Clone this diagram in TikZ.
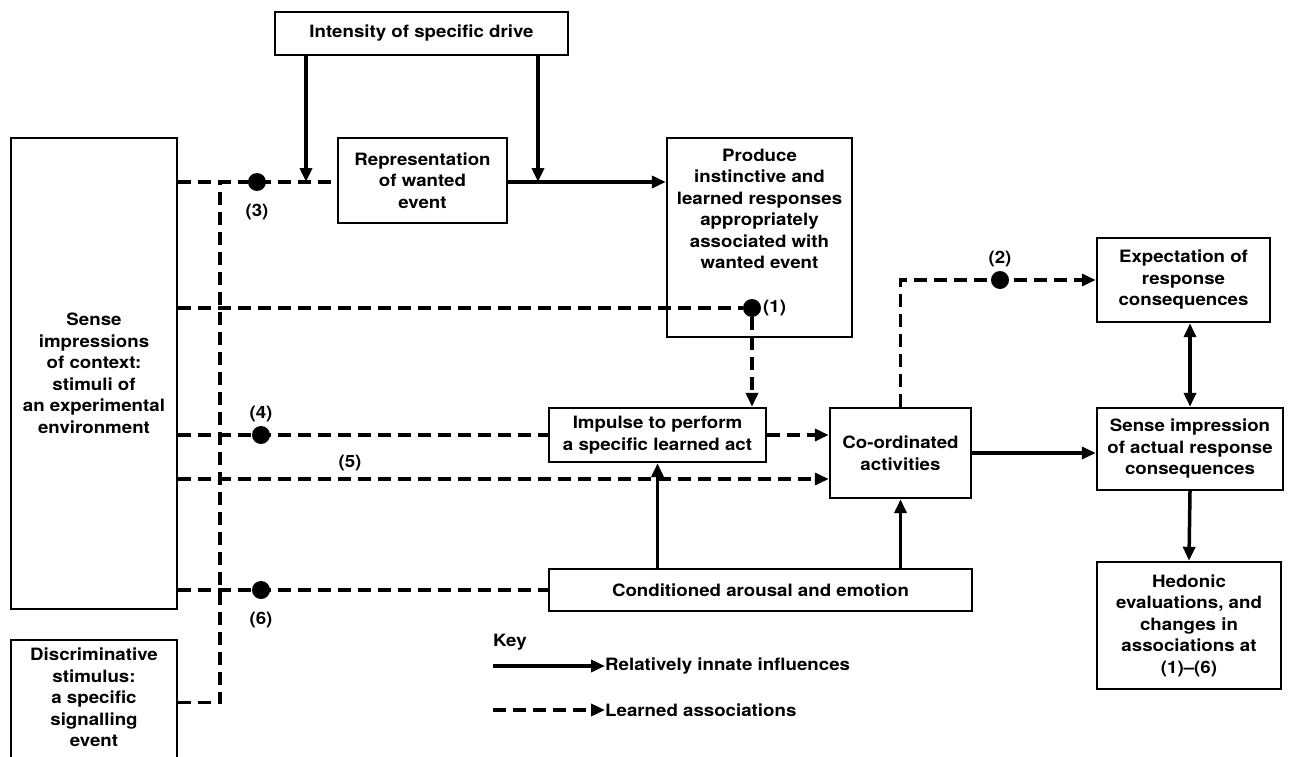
\documentclass[tikz,border=0pt]{standalone}
\usepackage{fontspec}
\newfontfamily\diagfont[FakeStretch=1.1,Ligatures=TeX]{TeX Gyre Heros}
\usetikzlibrary{arrows.meta}
\begin{document}
\begin{tikzpicture}[x=1pt,y=-1pt,
  every node/.style={font=\diagfont\bfseries\fontsize{17}{21.5}\selectfont},
  box/.style={draw, line width=2.4pt, inner sep=0pt, align=center},
  tip/.style={-{Triangle[length=14pt,width=12pt]}},
  solidline/.style={line width=3.5pt},
  learned/.style={line width=3.5pt, dash pattern=on 13pt off 7pt},
  junction/.style={circle, fill, inner sep=0pt, minimum size=18pt},
  tag/.style={inner sep=1pt}
]
\useasboundingbox (0,0) rectangle (1290,757);
\clip (0,0) rectangle (1290,757);
\fill[white] (0,0) rectangle (1290,757);

% ---- boxes ----
\node[box, minimum width=293pt, minimum height=43pt] (drive) at (421.5,33.5) {Intensity of specific drive};
\node[box, minimum width=166pt, minimum height=471pt] (sense) at (94,373.5)
  {Sense\\impressions\\of context:\\stimuli of\\an experimental\\environment};
\node[box, minimum width=166pt, minimum height=125pt, anchor=north] (disc) at (94,639)
  {\parbox[c][125pt][t]{160pt}{\centering\vspace*{8pt}Discriminative\\stimulus:\\a specific\\signalling\\event}};
\node[box, minimum width=169pt, minimum height=85pt] (rep) at (422.5,180.5) {Representation\\of wanted\\event};
\node[box, minimum width=185pt, minimum height=199pt] (produce) at (759.5,237.5)
  {\parbox[c][199pt][t]{180pt}{\centering\vspace*{11pt}Produce\\instinctive and\\learned responses\\appropriately\\associated with\\wanted event}};
\node[box, minimum width=173pt, minimum height=84pt] (expect) at (1183.5,280) {Expectation of\\response\\consequences};
\node[box, minimum width=186pt, minimum height=82pt] (actual) at (1190,449) {Sense impression\\of actual response\\consequences};
\node[box, minimum width=141pt, minimum height=90pt] (coord) at (900.5,453) {Co-ordinated\\activities};
\node[box, minimum width=217pt, minimum height=54pt] (impulse) at (657.5,435) {Impulse to perform\\a specific learned act};
\node[box, minimum width=423pt, minimum height=42pt] (cond) at (760.5,590) {Conditioned arousal and emotion};
\node[box, minimum width=184pt, minimum height=127pt] (hedonic) at (1189,625.5)
  {Hedonic\\evaluations, and\\changes in\\associations at\\(1)\textendash(6)};

% ---- junction points ----
\coordinate (bus) at (220,182);
\coordinate (j3) at (306,182);
\coordinate (jr) at (538,182);
\coordinate (c5) at (830,479);

% ---- drive and wanted event ----
\draw[learned] (sense.east |- bus) -- (rep.west |- bus);
\draw[solidline, tip] (drive.south -| j3) -- (j3);
\draw[solidline, tip] (drive.south -| jr) -- (jr);
\draw[solidline, tip] (rep.east |- jr) -- (produce.west |- jr);
\node[junction] (d3) at (257,182) {};
\node[tag] (l3) at (257,212) {(3)};

% ---- association (1) ----
\node[junction] (d1) at (752,308) {};
\draw[learned] (sense.east |- d1) -- (d1);
\draw[learned, tip] (d1) -- (d1 |- impulse.north);
\node[tag, anchor=west] (l1) at (762,308) {(1)};

% ---- association (4) ----
\draw[learned] (sense.east |- impulse.west) -- (impulse.west);
\node[junction] (d4) at (261,435) {};
\node[tag] (l4) at (261,414) {(4)};

% ---- association (5) ----
\draw[learned, tip] (sense.east |- c5) -- (coord.west |- c5);
\node[tag] (l5) at (350,463) {(5)};

% ---- association (6) ----
\draw[learned] (sense.east |- cond.west) -- (cond.west);
\node[junction] (d6) at (261,590) {};
\node[tag] (l6) at (261,620) {(6)};

% ---- discriminative stimulus feeds the bus ----
\draw[learned] (disc.east) -| (bus);

% ---- actions and consequences ----
\draw[learned, tip] (impulse.east) -- (impulse.east -| coord.west);
\draw[solidline, tip] (cond.north -| impulse.south) -- (impulse.south);
\draw[solidline, tip] (cond.north -| coord.south) -- (coord.south);
\draw[solidline, tip] (coord.east) -- (coord.east -| actual.west);
\draw[learned, tip] (coord.north) |- (expect.west);
\node[junction] (d2) at (1000,280) {};
\node[tag] (l2) at (1000,259) {(2)};
\draw[solidline, {Triangle[length=14pt,width=12pt]}-{Triangle[length=14pt,width=12pt]}]
  (expect.south -| actual.north) -- (actual.north);
\draw[solidline, tip] (actual.south) -- (hedonic.north);

% ---- key ----
\node[anchor=west, inner sep=0pt] (key) at (493,642) {Key};
\coordinate (k1) at (493,666);
\coordinate (k2) at (493,710);
\node[anchor=west, inner sep=0pt] (keysolid) at (605,666) {Relatively innate influences};
\node[anchor=west, inner sep=0pt] (keydash) at (605,710) {Learned associations};
\draw[solidline, tip] (k1) -- (keysolid.west);
\draw[learned, tip] (k2) -- (keydash.west);
\end{tikzpicture}
\end{document}
